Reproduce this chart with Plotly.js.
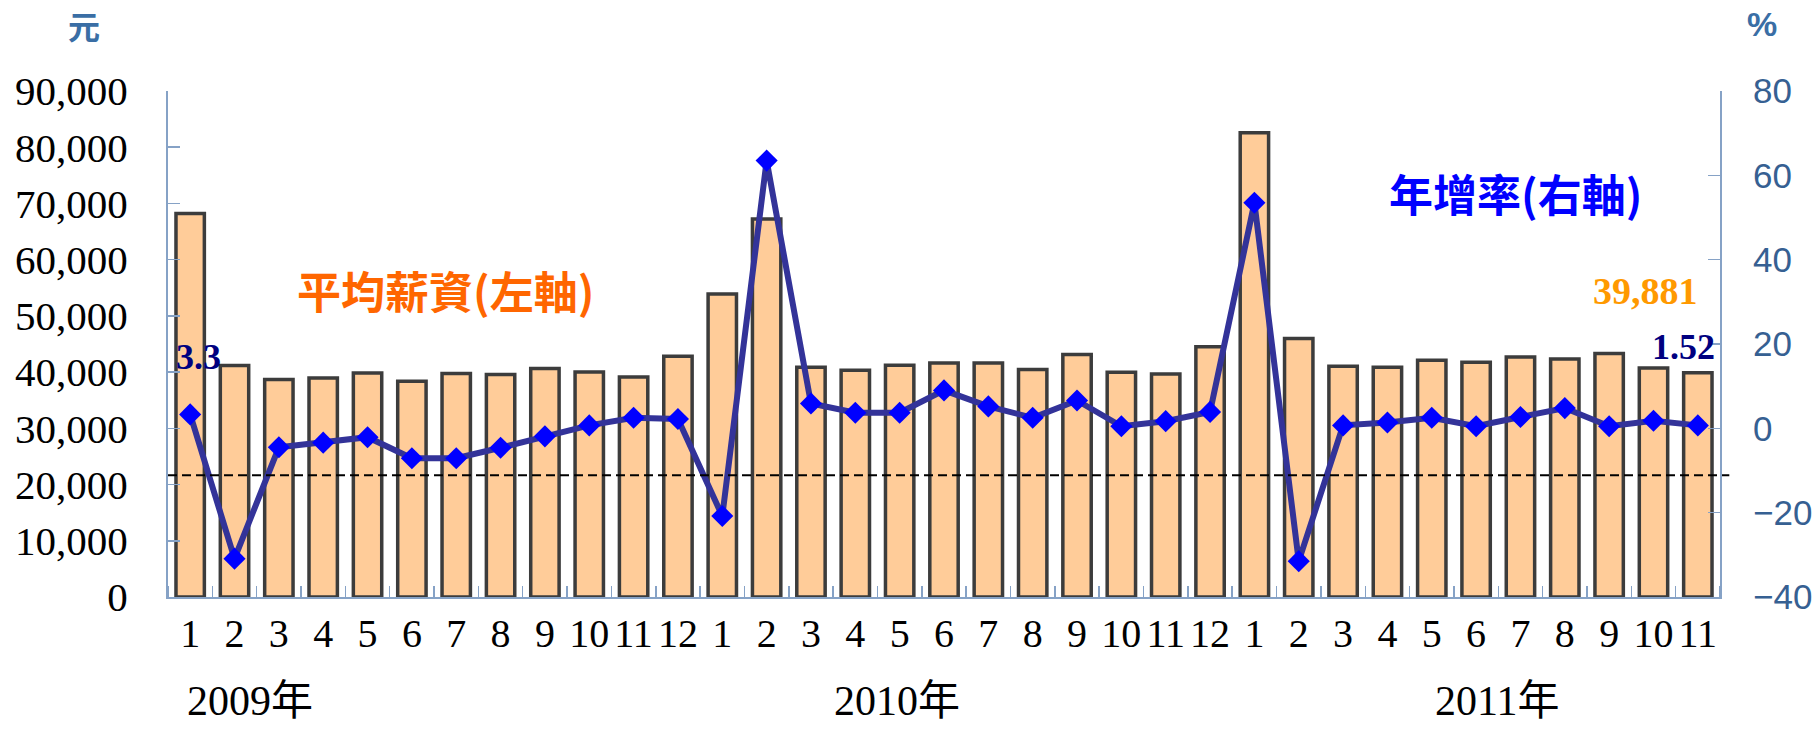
<!DOCTYPE html>
<html>
<head>
<meta charset="utf-8">
<script src="https://cdn.plot.ly/plotly-3.0.1.min.js"></script>
<style>html,body{margin:0;padding:0;background:#fff;}#chart{width:1812px;height:733px;}</style>
</head>
<body>
<div id="chart"></div>
<script>
// ---- data ----
const years = ["2009年", "2010年", "2011年"];
const months = ["1","2","3","4","5","6","7","8","9","10","11","12",
                "1","2","3","4","5","6","7","8","9","10","11","12",
                "1","2","3","4","5","6","7","8","9","10","11"];
const wage2009 = [68200, 41160, 38670, 38970, 39860, 38380, 39740, 39560, 40630, 40040, 39150, 42820];
const wage2010 = [53910, 67250, 40870, 40330, 41220, 41640, 41640, 40450, 43120, 39970, 39680, 44490];
const wage2011 = [82590, 45960, 41040, 40860, 42110, 41750, 42700, 42350, 43300, 40750, 39881];
const growth2009 = [3.3, -30.9, -4.5, -3.4, -2.1, -7.1, -7.1, -4.6, -1.9, 0.7, 2.5, 2.2];
const growth2010 = [-20.8, 63.5, 5.9, 3.7, 3.7, 9.0, 5.2, 2.5, 6.6, 0.5, 1.7, 3.9];
const growth2011 = [53.5, -31.5, 0.7, 1.4, 2.5, 0.5, 2.7, 4.8, 0.5, 1.8, 0.7];
const refLineWage = 21660;
const leftTicks = [0, 10000, 20000, 30000, 40000, 50000, 60000, 70000, 80000, 90000];
const rightTicks = [-40, -20, 0, 20, 40, 60, 80];

const wages = wage2009.concat(wage2010, wage2011);
const growth = growth2009.concat(growth2010, growth2011);
const idx = months.map((m, i) => i);

const serif = "'Liberation Serif', 'Times New Roman', 'Noto Sans CJK TC', serif";
const sans = "'Liberation Sans', Arial, sans-serif";
const cjk = "'Noto Sans CJK TC', 'Noto Sans CJK SC', sans-serif";
const axisBlue = "#366092";
const axisLine = "#86a2c6";

const traces = [
  {
    type: "bar", x: idx, y: wages, width: 0.64,
    marker: {color: "#ffcc99", line: {color: "#3c3c3c", width: 3.5}},
    hoverinfo: "skip", showlegend: false, xaxis: "x", yaxis: "y"
  },
  {
    type: "scatter", mode: "lines+markers", x: idx, y: growth,
    line: {color: "#333399", width: 6},
    marker: {symbol: "diamond", size: 17, color: "#0000ff"},
    showlegend: false, xaxis: "x", yaxis: "y2"
  }
];

const layout = {
  width: 1812, height: 733,
  margin: {l: 168, r: 92, t: 91, b: 136},
  paper_bgcolor: "#ffffff", plot_bgcolor: "rgba(0,0,0,0)",
  xaxis: {
    range: [-0.5, idx.length - 0.5],
    tickmode: "array", tickvals: idx, ticktext: months,
    ticks: "", showgrid: false, zeroline: false,
    showline: true, linecolor: axisLine, linewidth: 2,
    tickfont: {family: serif, size: 40, color: "#000"},
    ticklabelstandoff: 0,
    minor: {tick0: 0.5, dtick: 1, ticks: "inside", ticklen: 11, tickcolor: axisLine, tickwidth: 1.5, showgrid: false}
  },
  yaxis: {
    range: [0, 90000], tickmode: "array", tickvals: leftTicks,
    tickformat: ",d", separatethousands: true,
    ticks: "inside", ticklen: 12, tickcolor: axisLine, tickwidth: 1.5,
    showline: true, linecolor: axisLine, linewidth: 2,
    showgrid: false, zeroline: false,
    tickfont: {family: serif, size: 41, color: "#000"},
    ticklabelstandoff: 30
  },
  yaxis2: {
    overlaying: "y", side: "right",
    range: [-40, 80], tickmode: "array", tickvals: rightTicks,
    ticks: "inside", ticklen: 12, tickcolor: axisLine, tickwidth: 1.5,
    showline: true, linecolor: axisLine, linewidth: 2,
    showgrid: false, zeroline: false,
    tickfont: {family: sans, size: 35, color: axisBlue},
    ticklabelstandoff: 24
  },
  shapes: [
    {type: "line", xref: "paper", x0: 0, x1: 1.006, yref: "y", y0: refLineWage, y1: refLineWage,
     line: {color: "#000", width: 2, dash: "9px,5px"}, layer: "above"}
  ],
  annotations: [
    {text: "<b>元</b>", xref: "paper", yref: "paper", x: -0.054, y: 1.13, xanchor: "center", yanchor: "middle", showarrow: false,
     font: {family: cjk, size: 32, color: "#3a6ea5"}},
    {text: "<b>%</b>", xref: "paper", yref: "paper", x: 1.027, y: 1.132, xanchor: "center", yanchor: "middle", showarrow: false,
     font: {family: sans, size: 34, color: "#3a6ea5"}},
    {text: "<b>平均薪資(左軸)</b>", xref: "x", yref: "y", x: 5.75, y: 54680, xanchor: "center", yanchor: "middle", showarrow: false,
     font: {family: cjk, size: 44, color: "#ff6600"}},
    {text: "<b>年增率(右軸)</b>", xref: "x", yref: "y2", x: 29.88, y: 55.9, xanchor: "center", yanchor: "middle", showarrow: false,
     font: {family: cjk, size: 44, color: "#0000ff"}},
    {text: "<b>39,881</b>", xref: "x", yref: "y2", x: 32.83, y: 32.5, xanchor: "center", yanchor: "middle", showarrow: false,
     font: {family: serif, size: 38, color: "#ff9900"}},
    {text: "<b>1.52</b>", xref: "x", yref: "y2", x: 33.68, y: 19.4, xanchor: "center", yanchor: "middle", showarrow: false,
     font: {family: serif, size: 36, color: "#000080"}},
    {text: "<b>3.3</b>", xref: "x", yref: "y2", x: 0.185, y: 17.0, xanchor: "center", yanchor: "middle", showarrow: false,
     font: {family: serif, size: 36, color: "#000080"}},
    {text: years[0], xref: "x", yref: "paper", x: -0.11, y: -0.206, xanchor: "left", yanchor: "middle", showarrow: false,
     font: {family: serif, size: 42, color: "#000"}},
    {text: years[1], xref: "x", yref: "paper", x: 14.48, y: -0.206, xanchor: "left", yanchor: "middle", showarrow: false,
     font: {family: serif, size: 42, color: "#000"}},
    {text: years[2], xref: "x", yref: "paper", x: 28.03, y: -0.206, xanchor: "left", yanchor: "middle", showarrow: false,
     font: {family: serif, size: 42, color: "#000"}}
  ]
};

Plotly.newPlot("chart", traces, layout, {staticPlot: true, displayModeBar: false});
</script>
</body>
</html>
